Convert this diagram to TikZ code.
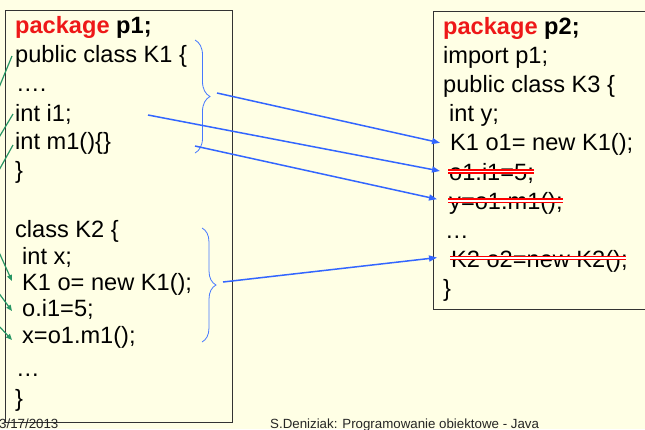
\documentclass[tikz,border=0pt]{standalone}
\usepackage{fontspec}
\setmainfont{Liberation Sans}
\usetikzlibrary{arrows.meta,decorations.pathreplacing}
\definecolor{paper}{RGB}{255,255,229}
\definecolor{kwred}{RGB}{238,24,24}
\definecolor{linkblue}{RGB}{51,102,255}
\definecolor{braceblue}{RGB}{70,120,255}
\definecolor{refgreen}{RGB}{40,150,100}
\begin{document}
\begin{tikzpicture}[x=1pt,y=-1pt,
  code/.style={anchor=base west,inner sep=0pt,font=\fontsize{23.6}{28}\selectfont},
  foot/.style={anchor=base west,inner sep=0pt,text=black!85,font=\fontsize{13.3}{15}\selectfont},
  frame/.style={draw=black!80,line width=0.9pt,fill=paper},
  link/.style={draw=linkblue,line width=1.5pt,-{Triangle[length=8pt,width=6pt]}},
  ref/.style={draw=refgreen,line width=1.2pt},
  refarrow/.style={ref,-{Triangle[length=6pt,width=5pt]}},
  grp/.style={draw=braceblue,line width=0.8pt,decorate,decoration={brace,amplitude=#1}},
  strike/.style={draw=red,line width=1.4pt,double=white,double distance=1.7pt}]
\useasboundingbox (0,0) rectangle (645,429);
\fill[paper] (0,0) rectangle (645,429);

% package boxes
\draw[frame] (5,10) rectangle (232,422);
\draw[frame] (433,11.5) rectangle (650,309);

% package p1
\node[code] (p1pkg) at (15,33) {\textbf{\textcolor{kwred}{package} p1;}};
\node[code] (k1head) at (15,62) {public class K1 \{};
\node[code] (k1dots) at (16,91) {….};
\node[code] (k1i1) at (15,121) {int i1;};
\node[code] (k1m1) at (15,149) {int m1()\{\}};
\node[code] (k1end) at (15,178) {\}};
\node[code] (k2head) at (15,237) {class K2 \{};
\node[code] (k2x) at (22,264) {int x;};
\node[code] (k2o) at (22,290) {K1 o= new K1();};
\node[code] (k2oi) at (22,316) {o.i1=5;};
\node[code] (k2xm) at (22,343) {x=o1.m1();};
\node[code] (k2dots) at (16,376) {…};
\node[code] (k2end) at (15,406) {\}};

% package p2
\node[code] (p2pkg) at (443,34) {\textbf{\textcolor{kwred}{package} p2;}};
\node[code] (imp) at (443,63.2) {import p1;};
\node[code] (k3head) at (443,92.4) {public class K3 \{};
\node[code] (k3y) at (449,121.6) {int y;};
\node[code] (k3o) at (450,150.8) {K1 o1= new K1();};
\node[code] (k3oi) at (449,180) {o1.i1=5;};
\node[code] (k3ym) at (449,209.2) {y=o1.m1();};
\node[code] (k3dots) at (445,238.4) {…};
\node[code] (k3k2) at (451,267.6) {K2 o2=new K2();};
\node[code] (k3end) at (443,296.8) {\}};

% struck-out lines
\draw[strike] ([xshift=-1pt,yshift=8.5pt]k3oi.base west) -- ([yshift=8.5pt]k3oi.base east);
\draw[strike] ([xshift=-1pt,yshift=8.5pt]k3ym.base west) -- ([yshift=8.5pt]k3ym.base east);
\draw[strike] ([xshift=-1pt,yshift=9.5pt]k3k2.base west) -- ([xshift=-2pt,yshift=9.5pt]k3k2.base east);

% braces grouping the class bodies
\draw[grp=15pt] (195,40) -- (195,153);
\draw[grp=14pt] (202,228) -- (202,342);

% access arrows between the packages
\coordinate (s1) at (217,93);
\coordinate (s2) at (148,115);
\coordinate (s3) at (195,146);
\coordinate (s4) at (223,282);
\coordinate (e1) at ([xshift=-10pt,yshift=8pt]k3o.base west);
\coordinate (e2) at ([xshift=-9pt,yshift=9pt]k3oi.base west);
\coordinate (e3) at ([xshift=-12pt,yshift=10pt]k3ym.base west);
\coordinate (e4) at ([xshift=-14pt,yshift=10pt]k3k2.base west);
\draw[link] (s1) -- (e1);
\draw[link] (s2) -- (e2);
\draw[link] (s3) -- (e3);
\draw[link] (s4) -- (e4);

% references coming in from the left
\coordinate (g1) at (-2,90);
\coordinate (g2) at (-2,139);
\coordinate (g3) at (-2,172);
\draw[ref] (g1) -- ([xshift=-3pt,yshift=6pt]k1head.base west);
\draw[ref] (g2) -- ([xshift=-2pt,yshift=7pt]k1i1.base west);
\draw[ref] (g3) -- ([xshift=-2pt,yshift=4pt]k1m1.base west);
\coordinate (h1) at (-2,250);
\coordinate (h2) at (-2,292);
\coordinate (h3) at (-2,325);
\draw[refarrow] (h1) -- ([xshift=-10pt,yshift=9pt]k2o.base west);
\draw[refarrow] (h2) -- ([xshift=-10pt,yshift=5pt]k2oi.base west);
\draw[refarrow] (h3) -- ([xshift=-10pt,yshift=3pt]k2xm.base west);

% footer
\node[foot] (date) at (-1,428) {3/17/2013};
\node[foot] (title) at (270,428) {S.Deniziak: Programowanie obiektowe - Java};
\end{tikzpicture}
\end{document}
